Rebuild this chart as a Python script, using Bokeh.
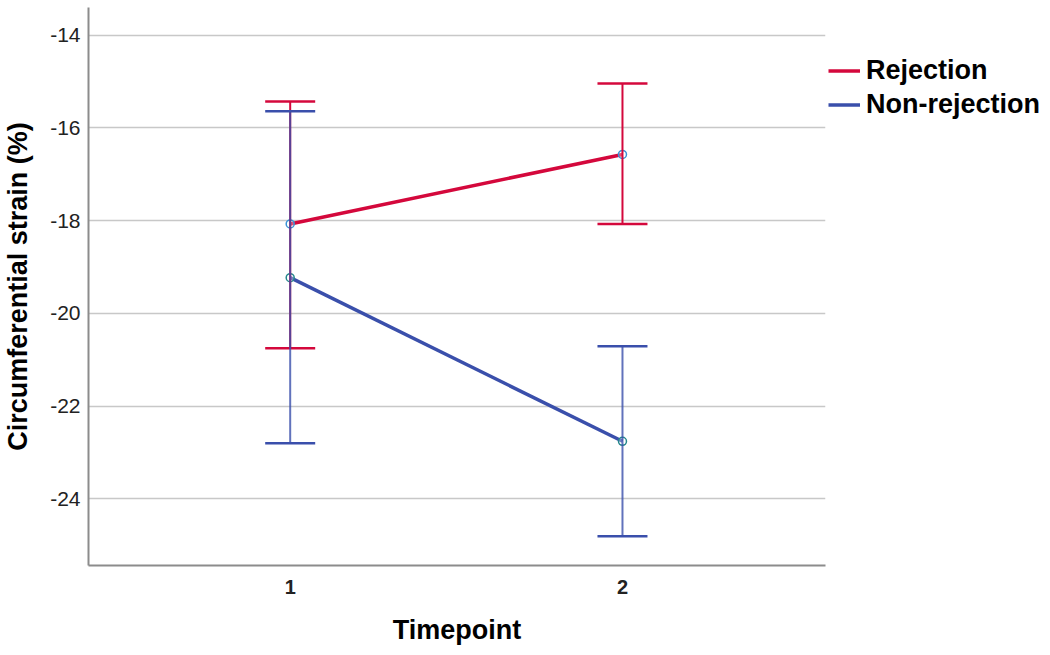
from bokeh.plotting import figure
from bokeh.models import (ColumnDataSource, Whisker, TeeHead, Legend, LegendItem,
                          Range1d, FixedTicker, PrintfTickFormatter)
from bokeh.embed import file_html
from bokeh.resources import INLINE

timepoints = [1, 2]
rej_mean = [-18.07, -16.57]
rej_upper = [-15.43, -15.04]
rej_lower = [-20.75, -18.07]
non_mean = [-19.23, -22.76]
non_upper = [-15.64, -20.71]
non_lower = [-22.80, -24.81]
y_ticks = [-24, -22, -20, -18, -16, -14]
x_ticks = [1, 2]

RED = "#d4083c"
BLUE = "#3a4fab"
FONT = "Liberation Sans"

p = figure(frame_width=737, frame_height=558, output_backend="svg",
           toolbar_location=None, x_range=Range1d(0.393, 2.611),
           y_range=Range1d(-25.44, -13.40),
           min_border_left=88, min_border_top=7, min_border_bottom=82,
           min_border_right=0)
p.outline_line_color = None
p.background_fill_color = "white"
p.border_fill_color = "white"
p.xgrid.grid_line_color = None
p.ygrid.grid_line_color = "#c8c8c8"
p.ygrid.grid_line_width = 1.5

p.yaxis.ticker = FixedTicker(ticks=y_ticks)
p.yaxis.formatter = PrintfTickFormatter(format="%d")
p.xaxis.ticker = FixedTicker(ticks=x_ticks)
for ax in (p.xaxis, p.yaxis):
    ax.axis_line_color = "#8c8c8c"
    ax.axis_line_width = 2
    ax.major_tick_line_color = None
    ax.minor_tick_line_color = None
    ax.major_tick_out = 0
    ax.major_tick_in = 0
    ax.axis_label_text_font = FONT
    ax.axis_label_text_font_style = "bold"
    ax.axis_label_text_font_size = "27px"
    ax.axis_label_text_color = "black"
    ax.major_label_text_font = FONT
    ax.major_label_text_color = "#222222"

p.yaxis.axis_label = "Circumferential strain (%)"
p.yaxis.major_label_text_font_size = "21px"
p.yaxis.major_label_standoff = 8
p.yaxis.axis_label_standoff = 14
p.xaxis.axis_label = "Timepoint"
p.xaxis.major_label_text_font_size = "20px"
p.xaxis.major_label_text_font_style = "bold"
p.xaxis.major_label_standoff = 14
p.xaxis.axis_label_standoff = 18

rsrc = ColumnDataSource(dict(x=timepoints, y=rej_mean, lo=rej_lower, hi=rej_upper))
nsrc = ColumnDataSource(dict(x=timepoints, y=non_mean, lo=non_lower, hi=non_upper))

r_line = p.line("x", "y", source=rsrc, line_color=RED, line_width=3.5)
wr = Whisker(base="x", lower="lo", upper="hi", source=rsrc, line_color=RED, line_width=2,
             lower_head=TeeHead(size=50, line_color=RED, line_width=2.5),
             upper_head=TeeHead(size=50, line_color=RED, line_width=2.5), level="glyph")
p.add_layout(wr)

n_line = p.line("x", "y", source=nsrc, line_color=BLUE, line_width=3.5)
wn = Whisker(base="x", lower="lo", upper="hi", source=nsrc, line_color=BLUE, line_width=2,
             line_alpha=0.8,
             lower_head=TeeHead(size=50, line_color=BLUE, line_width=2.5),
             upper_head=TeeHead(size=50, line_color=BLUE, line_width=2.5), level="glyph")
p.add_layout(wn)

p.scatter("x", "y", source=rsrc, size=8, marker="circle", fill_color="white",
          fill_alpha=0.3, line_color="#3a93d6", line_width=1.5)
p.scatter("x", "y", source=nsrc, size=8, marker="circle", fill_color="white",
          fill_alpha=0.3, line_color="#24878c", line_width=1.5)

legend = Legend(items=[LegendItem(label="Rejection", renderers=[r_line]),
                       LegendItem(label="Non-rejection", renderers=[n_line])],
                location=(3, 445), orientation="vertical")
legend.label_text_font = FONT
legend.label_text_font_style = "bold"
legend.label_text_font_size = "27px"
legend.label_text_color = "black"
legend.glyph_width = 32
legend.glyph_height = 27
legend.label_height = 27
legend.label_standoff = 6
legend.spacing = 3
legend.padding = 0
legend.margin = 0
legend.border_line_color = None
legend.background_fill_alpha = 0
p.add_layout(legend, "right")
p.min_border_right = 205

open("out.html", "w").write(file_html(p, INLINE))
